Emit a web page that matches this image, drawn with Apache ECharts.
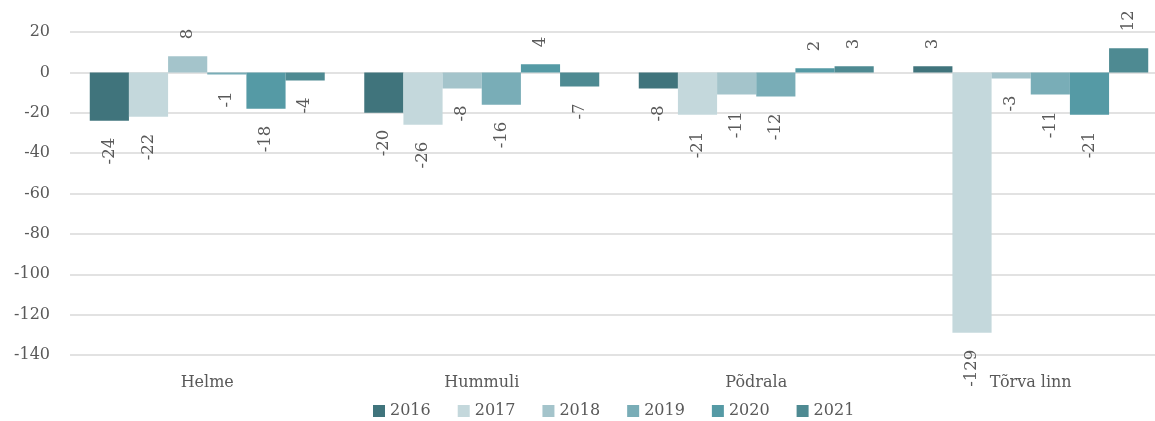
<!DOCTYPE html>
<html>
<head>
<meta charset="utf-8">
<script src="https://cdn.jsdelivr.net/npm/echarts@6/dist/echarts.min.js"></script>
<style>
  html, body { margin: 0; padding: 0; background: #fff; }
  #chart { width: 1155px; height: 421px; }
</style>
</head>
<body>
<div id="chart"></div>
<script>
const categories = ['Helme', 'Hummuli', 'Põdrala', 'Tõrva linn'];
const years = ['2016', '2017', '2018', '2019', '2020', '2021'];
const v2016 = [-24, -20, -8, 3];
const v2017 = [-22, -26, -21, -129];
const v2018 = [8, -8, -11, -3];
const v2019 = [-1, -16, -12, -11];
const v2020 = [-18, 4, 2, -21];
const v2021 = [-4, -7, 3, 12];
const yearValues = [v2016, v2017, v2018, v2019, v2020, v2021];
const colors = ['#40747c', '#c4d8dc', '#a4c4cb', '#79adb7', '#559aa5', '#4e8a92'];

const textColor = '#595959';
const font = 'DejaVu Serif';

const chart = echarts.init(document.getElementById('chart'));

// labels sit outside the bar end, rotated, on the side the bar grows to
function withLabels(values) {
  return values.map(v => ({
    value: v,
    label: v >= 0
      ? { position: 'top', align: 'left', verticalAlign: 'middle' }
      : { position: 'bottom', align: 'right', verticalAlign: 'middle' }
  }));
}

chart.setOption({
  animation: false,
  textStyle: { fontFamily: font },
  // plot area runs a little past the right edge, like the original
  grid: { left: 70, width: 1098, top: 32, bottom: 66, outerBoundsMode: 'none' },
  legend: {
    data: years,
    top: 398,
    left: 368,
    itemWidth: 12,
    itemHeight: 12,
    itemGap: 27,
    icon: 'rect',
    textStyle: { color: textColor, fontSize: 16, fontFamily: font }
  },
  xAxis: {
    type: 'category',
    data: categories,
    axisLine: { show: false, onZero: false },
    axisTick: { show: false },
    axisLabel: { color: textColor, fontSize: 16, fontFamily: font, margin: 20 }
  },
  yAxis: {
    type: 'value',
    min: -140,
    max: 20,
    interval: 20,
    axisLine: { show: false },
    axisTick: { show: false },
    splitLine: { lineStyle: { color: '#d9d9d9', width: 1.5 } },
    axisLabel: { color: textColor, fontSize: 16, fontFamily: font, margin: 20 }
  },
  series: years.map((y, i) => ({
    name: y,
    type: 'bar',
    data: withLabels(yearValues[i]),
    barGap: '0%',
    barCategoryGap: '14.4%',
    itemStyle: { color: colors[i] },
    label: {
      show: true,
      rotate: 90,
      distance: 17,
      color: textColor,
      fontSize: 16.5,
      fontFamily: font
    }
  }))
});
</script>
</body>
</html>
